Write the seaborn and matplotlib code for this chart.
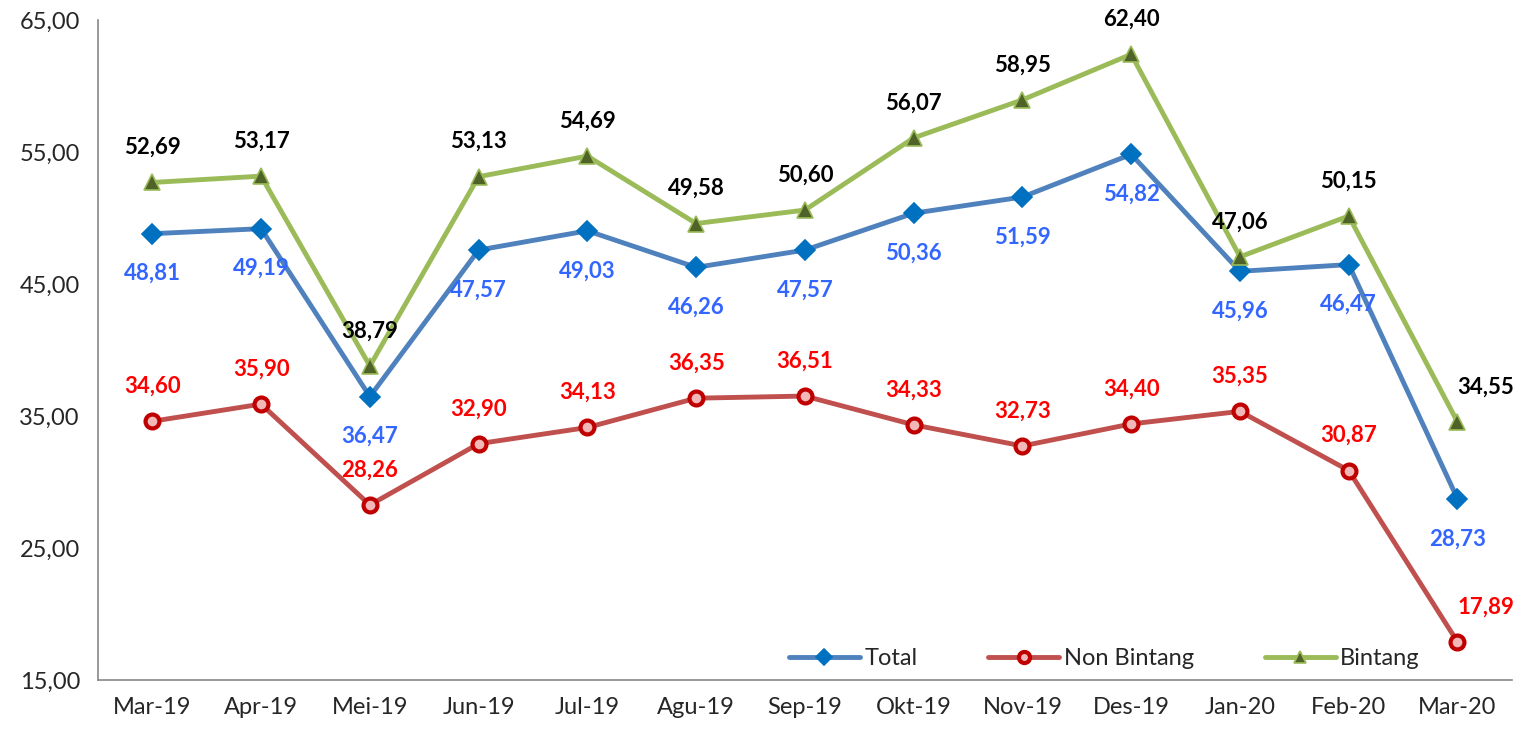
import numpy as np
import pandas as pd
import seaborn as sns
import matplotlib.pyplot as plt

months = ['Mar-19', 'Apr-19', 'Mei-19', 'Jun-19', 'Jul-19', 'Agu-19', 'Sep-19',
          'Okt-19', 'Nov-19', 'Des-19', 'Jan-20', 'Feb-20', 'Mar-20']
total = [48.81, 49.19, 36.47, 47.57, 49.03, 46.26, 47.57, 50.36, 51.59, 54.82, 45.96, 46.47, 28.73]
non_bintang = [34.60, 35.90, 28.26, 32.90, 34.13, 36.35, 36.51, 34.33, 32.73, 34.40, 35.35, 30.87, 17.89]
bintang = [52.69, 53.17, 38.79, 53.13, 54.69, 49.58, 50.60, 56.07, 58.95, 62.40, 47.06, 50.15, 34.55]
y_ticks = [15, 25, 35, 45, 55, 65]

sns.set_style('white')
plt.rcParams['font.family'] = ['Lato', 'DejaVu Sans']

fig = plt.figure(figsize=(15.21, 7.29), dpi=100)
ax = fig.add_axes([0.0644, 0.0672, 0.9296, 0.9054])

x = np.arange(len(months))

# (nama, data, warna garis, marker, warna isi marker, warna tepi marker, warna label, arah label)
series = [
    ('Total', total, '#4F81BD', 'D', '#0070C0', '#0070C0', '#3366FF', -1),
    ('Non Bintang', non_bintang, '#C0504D', 'o', '#F2B8B8', '#C00000', '#FF0000', 1),
    ('Bintang', bintang, '#9BBB59', '^', '#4F6228', '#9BBB59', '#000000', 1),
]

for name, vals, lc, mk, mfc, mec, tc, side in series:
    sns.lineplot(x=x, y=vals, ax=ax, color=lc, linewidth=3.5, label=name, sort=False,
                 marker=mk, markersize={'D': 10, 'o': 10, '^': 11}[mk], markerfacecolor=mfc,
                 markeredgecolor=mec, markeredgewidth=3 if mk == 'o' else 1.2)
    for i, v in enumerate(vals):
        dx = 28 if (i == len(vals) - 1 and side == 1) else 0
        off = 35 if side == 1 else -40
        ax.annotate(f'{v:.2f}'.replace('.', ','), (i, v), xytext=(dx, off),
                    textcoords='offset pixels',
                    ha='center', va='center', fontsize=16, fontweight='bold', color=tc)

ax.set_xlim(-0.5, len(months) - 0.5)
ax.set_ylim(15, 65)
ax.set_yticks(y_ticks)
ax.set_yticklabels([f'{t:.2f}'.replace('.', ',') for t in y_ticks])
ax.set_xticks(np.arange(-0.5, len(months), 1), minor=False)
ax.set_xticklabels([])
ax.set_xticks(x, minor=True)
ax.set_xticklabels(months, minor=True)
ax.tick_params(axis='x', which='major', length=7, color='#878787', width=1.2, direction='out')
ax.tick_params(axis='x', which='minor', length=0, labelsize=17, pad=12)
ax.tick_params(axis='y', length=7, color='#878787', width=1.2, direction='out', labelsize=17, pad=6)

for s in ['top', 'right']:
    ax.spines[s].set_visible(False)
for s in ['left', 'bottom']:
    ax.spines[s].set_color('#878787')
    ax.spines[s].set_linewidth(1.2)

ax.set_xlabel('')
ax.set_ylabel('')
ax.legend(loc='lower right', bbox_to_anchor=(0.95, -0.016), ncol=3, frameon=False,
          fontsize=17, columnspacing=3.0, handlelength=3, handletextpad=0.2, markerscale=0.8)

fig.savefig('out.png', dpi=100)
